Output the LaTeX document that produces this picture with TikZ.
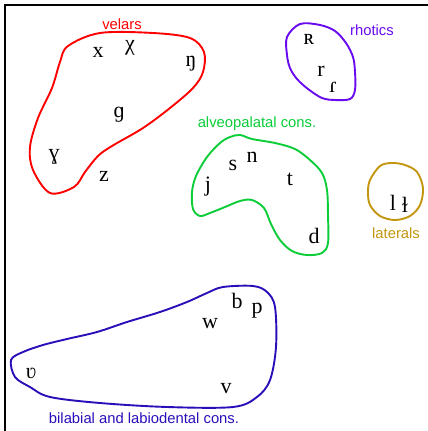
\documentclass[tikz,border=0pt]{standalone}
\usepackage{fontspec}
\setmainfont{Liberation Serif}
\newfontfamily\grpfont{Liberation Sans}
\usetikzlibrary{positioning}
\definecolor{velarred}{RGB}{255,0,0}
\definecolor{alveogreen}{RGB}{10,205,55}
\definecolor{rhoticviolet}{RGB}{105,10,240}
\definecolor{lateralgold}{RGB}{195,150,15}
\definecolor{labialblue}{RGB}{40,15,185}
\tikzset{
  blob/.style ={line width=1.9pt, line join=round, smooth cycle, tension=0.55},
  phon/.style ={font=\fontsize{22}{22}\selectfont, inner sep=0pt, anchor=base},
  grp/.style  ={font=\grpfont\fontsize{14.8}{15}\selectfont, inner sep=0pt, anchor=base},
  frame/.style={line width=1.3pt, black},
}

\begin{document}
\begin{tikzpicture}[x=1pt, y=-1pt]
  \useasboundingbox (0,0) rectangle (428,431);
  % frame
  \coordinate (tl) at (5,5);
  \coordinate (tr) at (428,5);
  \coordinate (bl) at (5,431);
  \draw[frame] (tr) -- (tl) -- (bl);

  % velars
  \draw[blob, velarred] plot coordinates {(68,46) (100,33) (153,33) (190,38) (204,52)
       (203,72) (193,88) (170,108) (143,128) (112,146) (98,156) (85,172) (74,187)
       (50,193) (33,170) (30,147) (38,118) (52,88) (60,62)};
  \node[grp, velarred] (velars) at (122,29) {velars};
  \node[phon] (x) at (98,57) {x};
  \node[phon] (chi) at (130,50) {χ};
  \node[phon] (eng) at (191,66) {ŋ};
  \node[phon] (g) at (119,117) {ɡ};
  \node[phon] (gamma) at (54,159) {ɣ};
  \node[phon] (z) at (104,181) {z};

  % rhotics
  \draw[blob, rhoticviolet] plot coordinates {(287,37) (300,24) (320,25) (335,31)
       (346,43) (353,57) (355,72) (355,90) (350,99) (335,100) (322,98) (308,89)
       (297,79) (290,68) (287,55)};
  \node[grp, rhoticviolet] (rhotics) at (372,35) {rhotics};
  \node[phon] (uvr) at (309,44) {ʀ};
  \node[phon] (r) at (321,76) {r};
  \node[phon] (tap) at (333,92) {ɾ};

  % alveopalatal
  \draw[blob, alveogreen] plot coordinates {(230,137) (240,135) (252,139) (275,143)
       (295,149) (310,160) (322,173) (327,190) (328,215) (328,243) (322,253)
       (307,255) (292,251) (280,240) (271,224) (264,208) (252,200) (240,201)
       (225,207) (210,213) (200,216) (193,209) (192,192) (196,176) (207,157)
       (220,143)};
  \node[grp, alveogreen] (alveo) at (257,127) {alveopalatal cons.};
  \node[phon] (j) at (208,191) {j};
  \node[phon] (s) at (233,170) {s};
  \node[phon] (n) at (252,162) {n};
  \node[phon] (t) at (290,185) {t};
  \node[phon] (d) at (314,243) {d};

  % laterals
  \draw[blob, lateralgold] plot coordinates {(370,180) (380,166) (392,163) (405,165)
       (417,172) (423,188) (420,205) (410,216) (395,220) (380,216) (370,205)
       (368,192)};
  \node[grp, lateralgold] (laterals) at (396,238) {laterals};
  \node[phon] (l) at (393,210) {l};
  \node[phon] (dl) at (405,212) {ɫ};

  % bilabial and labiodental
  \draw[blob, labialblue] plot coordinates {(11,360) (23,352) (43,345) (67,339)
       (97,332) (127,322) (160,312) (187,302) (207,293) (223,287) (253,286)
       (267,292) (275,307) (276,347) (270,380) (257,397) (233,407) (167,407)
       (100,403) (50,397) (30,387) (15,377)};
  \node[grp, labialblue] (labial) at (144,423) {bilabial and labiodental cons.};
  \node[phon] (vhook) at (31,378) {ʋ};
  \node[phon] (w) at (210,328) {w};
  \node[phon] (b) at (237,308) {b};
  \node[phon] (p) at (257,313) {p};
  \node[phon] (v) at (226,393) {v};
\end{tikzpicture}
\end{document}
